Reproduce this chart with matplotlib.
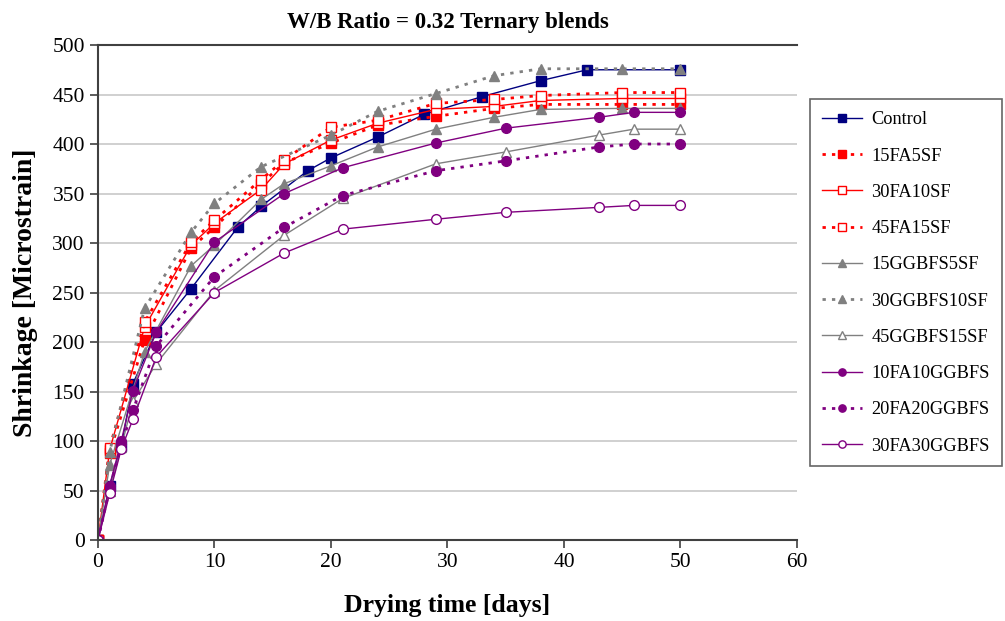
import matplotlib
matplotlib.use("Agg")
import matplotlib.pyplot as plt

plt.rcParams['font.family'] = ['Liberation Serif', 'DejaVu Serif']

# data (days, microstrain)
control_d = [0, 1, 2, 3, 5, 8, 12, 14, 18, 20, 24, 28, 33, 38, 42, 50]
control_v = [0, 55, 95, 158, 210, 254, 316, 337, 373, 386, 407, 430, 448, 464, 475, 475]

fa_sf_d = [0, 1, 4, 8, 10, 14, 16, 20, 24, 29, 34, 38, 45, 50]
fa5sf_v = [0, 88, 202, 295, 316, 360, 381, 401, 419, 428, 436, 440, 440, 440]
fa10sf_v = [0, 91, 215, 298, 320, 354, 380, 404, 421, 435, 438, 444, 446, 446]
fa15sf_v = [0, 93, 220, 301, 323, 364, 384, 417, 424, 441, 445, 449, 452, 452]

gg5sf_d = [0, 1, 4, 8, 10, 14, 16, 20, 24, 29, 34, 38, 45, 50]
gg5sf_v = [0, 76, 190, 277, 298, 344, 360, 378, 397, 415, 427, 435, 436, 436]
gg10sf_d = [0, 1, 4, 8, 10, 14, 20, 24, 29, 34, 38, 45, 50]
gg10sf_v = [0, 89, 234, 311, 340, 377, 409, 433, 451, 469, 476, 476, 476]
gg15sf_d = [0, 1, 2, 3, 5, 10, 16, 21, 29, 35, 43, 46, 50]
gg15sf_v = [0, 50, 94, 140, 178, 252, 308, 345, 380, 392, 409, 415, 415]

fa_gg_d = [0, 1, 2, 3, 5, 10, 16, 21, 29, 35, 43, 46, 50]
fa10gg_v = [0, 55, 100, 151, 210, 301, 350, 376, 401, 416, 427, 432, 432]
fa20gg_v = [0, 52, 97, 131, 196, 266, 316, 348, 373, 383, 397, 400, 400]
fa30gg_v = [0, 47, 92, 122, 185, 250, 290, 314, 324, 331, 336, 338, 338]

navy = '#000080'
red = '#ff0000'
gray = '#808080'
purple = '#800080'
dot = (0, (1.2, 2.2))

fig = plt.figure(figsize=(10.05, 6.21), dpi=100)
ax = fig.add_axes([0.0975, 0.1304, 0.6955, 0.7971])

ax.plot(control_d, control_v, color=navy, lw=1, marker='s', ms=7, label='Control')
ax.plot(fa_sf_d, fa5sf_v, color=red, lw=2, ls=dot, marker='s', ms=7, label='15FA5SF')
ax.plot(fa_sf_d, fa10sf_v, color=red, lw=1, marker='s', ms=7, mfc='white', label='30FA10SF')
ax.plot(fa_sf_d, fa15sf_v, color=red, lw=2, ls=dot, marker='s', ms=7, mfc='white', label='45FA15SF')
ax.plot(gg5sf_d, gg5sf_v, color=gray, lw=1, marker='^', ms=7, label='15GGBFS5SF')
ax.plot(gg10sf_d, gg10sf_v, color=gray, lw=2, ls=dot, marker='^', ms=7, label='30GGBFS10SF')
ax.plot(gg15sf_d, gg15sf_v, color=gray, lw=1, marker='^', ms=7, mfc='white', label='45GGBFS15SF')
ax.plot(fa_gg_d, fa10gg_v, color=purple, lw=1, marker='o', ms=7, label='10FA10GGBFS')
ax.plot(fa_gg_d, fa20gg_v, color=purple, lw=2, ls=dot, marker='o', ms=7, label='20FA20GGBFS')
ax.plot(fa_gg_d, fa30gg_v, color=purple, lw=1, marker='o', ms=7, mfc='white', label='30FA30GGBFS')

ax.set_xlim(0, 60)
ax.set_ylim(0, 500)
ax.set_xticks(range(0, 61, 10))
ax.set_yticks(range(0, 501, 50))
ax.yaxis.grid(True, color='#c8c8c8', lw=1.2)
ax.set_axisbelow(True)
ax.spines['right'].set_visible(False)
for s in ['left', 'bottom', 'top']:
    ax.spines[s].set_color('#404040')
    ax.spines[s].set_linewidth(1.5)
ax.tick_params(labelsize=15.5, direction='out', length=6, width=1.2, color='#404040')

ax.set_xlabel('Drying time [days]', fontsize=18.5, fontweight='bold', labelpad=16)
ax.set_ylabel('Shrinkage [Microstrain]', fontsize=20, fontweight='bold', labelpad=10)
ax.set_title('W/B Ratio = 0.32 Ternary blends', fontsize=16.5, fontweight='bold', pad=12)

leg = fig.legend(loc='upper left', bbox_to_anchor=(0.806, 0.84), fontsize=13.2,
                 frameon=True, fancybox=False, edgecolor='#404040',
                 labelspacing=1.05, handlelength=2.2, handletextpad=0.5,
                 borderpad=0.65, borderaxespad=0, markerscale=0.75)
leg.get_frame().set_linewidth(1.2)

fig.savefig('out.png', dpi=100)
